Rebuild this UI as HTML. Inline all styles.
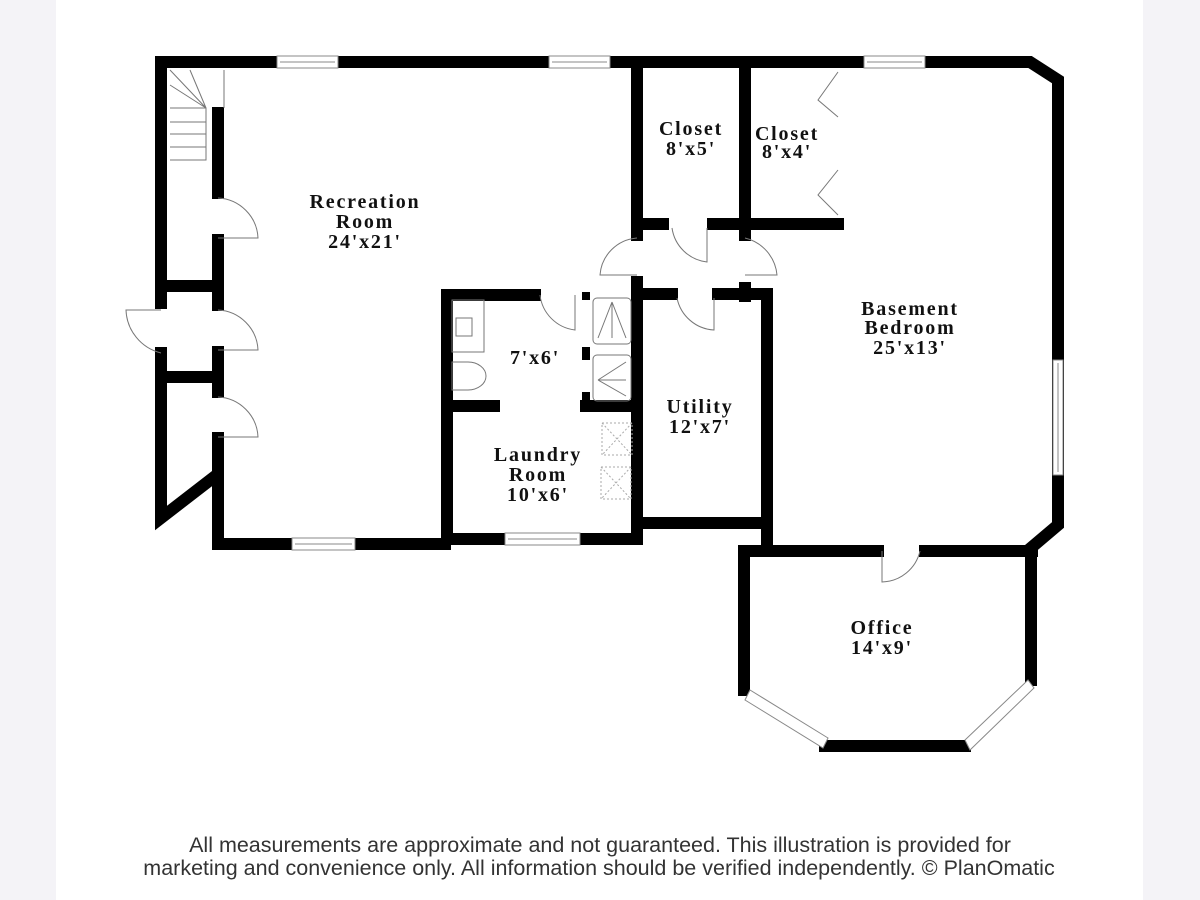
<!DOCTYPE html>
<html><head><meta charset="utf-8"><style>
html,body{margin:0;padding:0;background:#fff}
.wrap{position:relative;width:1200px;height:900px;overflow:hidden;background:#fff}
</style></head><body><div class="wrap">
<svg width="1200" height="900" viewBox="0 0 1200 900" xmlns="http://www.w3.org/2000/svg">
<rect x="0" y="0" width="56" height="900" fill="#f4f3f7"/>
<rect x="1143" y="0" width="57" height="900" fill="#f4f3f7"/>
<g stroke="#000" stroke-width="12" fill="none" stroke-linecap="square" stroke-linejoin="miter">
<polyline points="161,303 161,62 1030,62 1058,80 1058,525 1032,547"/>
<polyline points="161,353 161,518 218,474 218,544 445,544"/>
<line x1="218" y1="113" x2="218" y2="193"/>
<line x1="218" y1="240" x2="218" y2="305"/>
<line x1="218" y1="352" x2="218" y2="392"/>
<line x1="218" y1="438" x2="218" y2="474"/>
<line x1="167" y1="286" x2="212" y2="286"/>
<line x1="167" y1="377" x2="212" y2="377"/>
<line x1="637" y1="62" x2="637" y2="235"/>
<line x1="745" y1="62" x2="745" y2="235"/>
<line x1="637" y1="224" x2="663" y2="224"/>
<line x1="713" y1="224" x2="838" y2="224"/>
<polyline points="535,295 447,295 447,539 636,539"/>
<line x1="637" y1="282" x2="637" y2="539"/>
<line x1="637" y1="294" x2="672" y2="294"/>
<polyline points="718,294 767,294 767,548"/>
<line x1="640" y1="523" x2="767" y2="523"/>
<line x1="456" y1="406" x2="494" y2="406"/>
<line x1="586" y1="406" x2="632" y2="406"/>
<line x1="745" y1="288" x2="745" y2="296"/>
<line x1="770" y1="551" x2="878" y2="551"/>
<line x1="925" y1="551" x2="1032" y2="551"/>
<polyline points="770,551 744,551 744,690"/>
<line x1="1031" y1="556" x2="1031" y2="680"/>
<polyline points="825,746 965,746"/>
</g>
<g stroke="#000" stroke-width="8" fill="none">
<line x1="586" y1="292" x2="586" y2="300"/>
<line x1="586" y1="347" x2="586" y2="360"/>
<line x1="586" y1="392" x2="586" y2="406"/>
</g>
<g fill="#fff" stroke="#888" stroke-width="1">
<rect x="277" y="56" width="61" height="12"/><line x1="280" y1="62" x2="335" y2="62"/>
<rect x="549" y="56" width="61" height="12"/><line x1="552" y1="62" x2="607" y2="62"/>
<rect x="864" y="56" width="61" height="12"/><line x1="867" y1="62" x2="922" y2="62"/>
<rect x="292" y="538" width="63" height="12"/><line x1="295" y1="544" x2="352" y2="544"/>
<rect x="505" y="533" width="75" height="12"/><line x1="508" y1="539" x2="577" y2="539"/>
<rect x="1053" y="360" width="10" height="115"/><line x1="1058" y1="363" x2="1058" y2="472"/>
<polygon points="750,690 828,738 823,748 745,700"/>
<polygon points="965,740 1028,680 1034,688 970,750"/>
</g>
<g fill="none" stroke="#777" stroke-width="1">
<path d="M218,198 A42,42 0 0 1 258,238 L218,238"/>
<path d="M218,310 A42,42 0 0 1 258,350 L218,350"/>
<path d="M218,397 A42,42 0 0 1 258,437 L218,437"/>
<path d="M161,353 A46,46 0 0 1 126,310 L161,310"/>
<path d="M540,295 A40,40 0 0 0 575,330 L575,295"/>
<path d="M637,238 A40,40 0 0 0 600,275 L637,275"/>
<path d="M672,228 A40,40 0 0 0 707,262 L707,228"/>
<path d="M745,238 A42,42 0 0 1 777,275 L745,275"/>
<path d="M677,298 A40,40 0 0 0 714,330 L714,298"/>
<path d="M882,551 L882,582 A40,40 0 0 0 920,551"/>
<path d="M838,72 L818,100 L838,117"/>
<path d="M838,170 L818,195 L838,215"/>
<path d="M170,70 L206,108 L206,160 L170,160 M170,85 L206,108 M170,108 L206,108 M170,122 L206,122 M170,134 L206,134 M170,147 L206,147 M190,70 L206,108 M224,70 L224,108"/>
<rect x="452" y="300" width="32" height="52"/>
<rect x="456" y="318" width="16" height="18"/>
<path d="M452,362 L468,362 A18,14 0 0 1 468,390 L452,390 Z"/>
<rect x="593" y="298" width="38" height="46" rx="4"/>
<path d="M612,302 L598,338 M612,302 L626,338 M612,302 L612,338"/>
<rect x="593" y="355" width="38" height="46" rx="4"/>
<path d="M598,380 L626,362 M598,380 L626,396 M598,380 L626,380"/>
</g>
<g fill="none" stroke="#aaa" stroke-width="1" stroke-dasharray="2,2">
<rect x="602" y="423" width="30" height="32"/><path d="M602,423 L632,455 M632,423 L602,455"/>
<rect x="601" y="467" width="30" height="32"/><path d="M601,467 L631,499 M631,467 L601,499"/>
</g>
<g font-family="'Liberation Serif',serif" font-weight="bold" font-size="20" letter-spacing="1.8" text-anchor="middle" fill="#111">
<text x="365" y="208">Recreation</text><text x="365" y="228">Room</text><text x="365" y="248">24'x21'</text>
<text x="691" y="135">Closet</text><text x="691" y="155">8'x5'</text>
<text x="787" y="140">Closet</text><text x="787" y="158">8'x4'</text>
<text x="910" y="315">Basement</text><text x="910" y="334">Bedroom</text><text x="910" y="354">25'x13'</text>
<text x="535" y="364">7'x6'</text>
<text x="700" y="413">Utility</text><text x="700" y="433">12'x7'</text>
<text x="538" y="461">Laundry</text><text x="538" y="481">Room</text><text x="538" y="501">10'x6'</text>
<text x="882" y="634">Office</text><text x="882" y="654">14'x9'</text>
</g>
<g font-family="'Liberation Sans',sans-serif" font-size="21.5" text-anchor="middle" fill="#333">
<text x="600" y="852">All measurements are approximate and not guaranteed. This illustration is provided for</text>
<text x="599" y="875">marketing and convenience only. All information should be verified independently. © PlanOmatic</text>
</g>
</svg>
</div></body></html>
